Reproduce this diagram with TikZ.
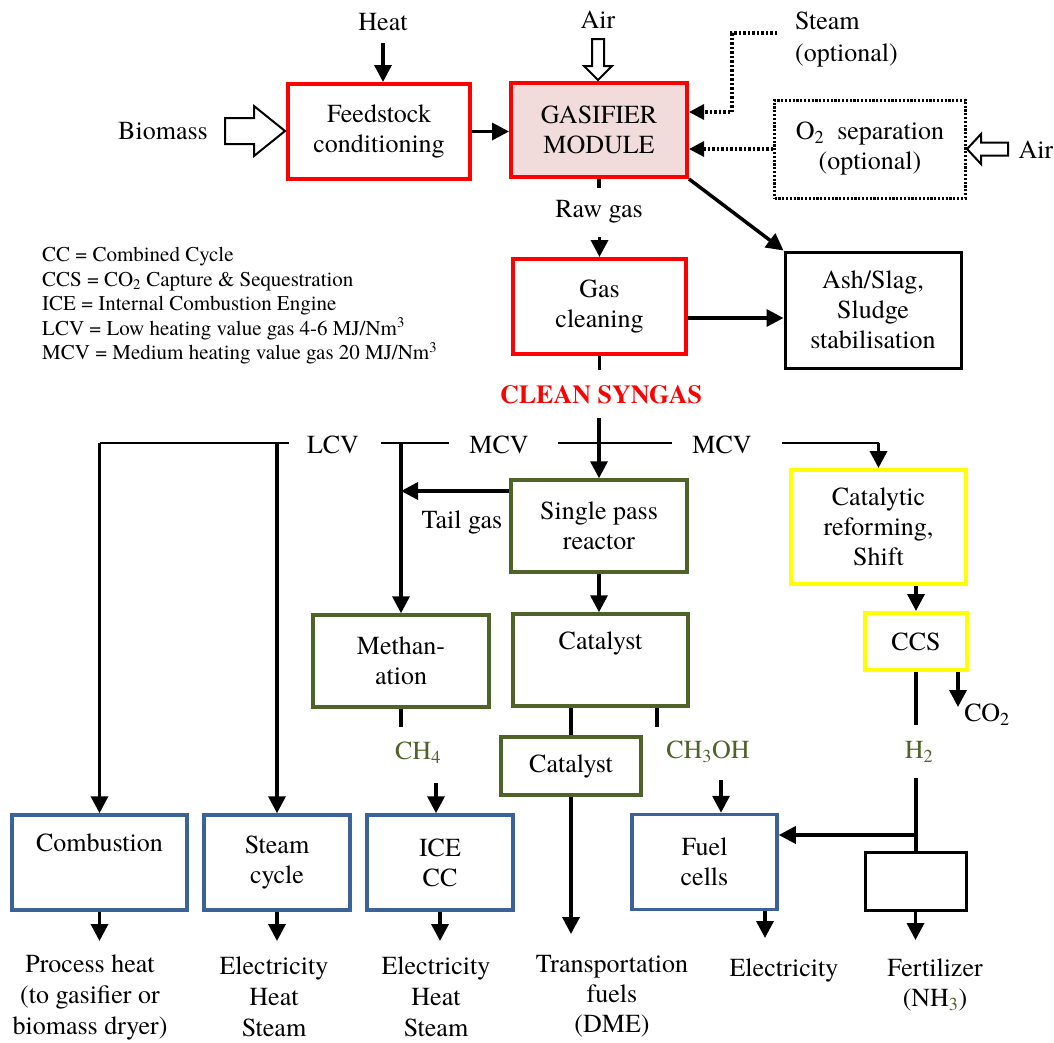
\documentclass[tikz,border=0pt]{standalone}
\usepackage{fontspec}
\setmainfont{texgyretermes}[Extension=.otf, UprightFont=*-regular, BoldFont=*-bold, ItalicFont=*-italic, BoldItalicFont=*-bolditalic]
\usetikzlibrary{arrows.meta}
\definecolor{redc}{HTML}{FF0000}
\definecolor{greenc}{HTML}{4F6228}
\definecolor{bluec}{HTML}{3B6397}
\definecolor{yellowc}{HTML}{FFFF00}
\definecolor{pinkc}{HTML}{F2DCDB}
\begin{document}
\begin{tikzpicture}[x=1pt,y=-1pt,
  every node/.style={font=\fontsize{26}{30}\selectfont, align=center, inner sep=0pt},
  redbox/.style={draw=redc, line width=4pt},
  greenbox/.style={draw=greenc, line width=3.5pt},
  bluebox/.style={draw=bluec, line width=3.5pt},
  yellowbox/.style={draw=yellowc, line width=4pt},
  blackbox/.style={draw=black, line width=3pt},
  dotbox/.style={draw=black, line width=3pt, dash pattern=on 2.2pt off 1.6pt},
  arr/.style={line width=3.5pt, -{Triangle[length=17pt,width=17pt]}},
  dotarr/.style={line width=3.2pt, dash pattern=on 2.5pt off 2pt, -{Triangle[length=15pt,width=15pt]}},
  stub/.style={line width=3.5pt},
  hline/.style={line width=1.8pt},
  hollow/.style={draw=black, line width=2pt, fill=white, line join=miter},
  gtext/.style={text=greenc},
  outtext/.style={font=\fontsize{26}{31}\selectfont}
]
\useasboundingbox (0,0) rectangle (1054,1042);

% ---------- top ----------
\node (heat) at (383,22) {Heat};
\node[redbox, minimum width=182, minimum height=95] (feed) at (379,131.5) {Feedstock\\conditioning};
\node (biomass) at (163,131) {Biomass};
\draw[hollow] (225,118) -- (254,118) -- (254,106) -- (285,131) -- (254,156) -- (254,144) -- (225,144) -- cycle;
\draw[arr] (heat.south |- 0,43) -- (heat.south |- feed.north);

\node[redbox, fill=pinkc, minimum width=176, minimum height=94] (gasif) at (599,130) {GASIFIER\\MODULE};
\draw[arr] (feed.east) -- (gasif.west |- feed.east);

\node (airtop) at (598,20) {Air};
\draw[hollow] (592,39) -- (604,39) -- (604,66) -- (612,66) -- (598,80) -- (584,66) -- (592,66) -- cycle;

\node[align=left, anchor=west, font=\fontsize{26}{32}\selectfont] (steam) at (795,40) {Steam\\(optional)};
\coordinate (steamend) at (777,33);
\draw[dotarr] (steamend) -- (732,33) -- (732,112) -- (gasif.east |- 0,112);

\node[dotbox, minimum width=191, minimum height=98] (o2) at (870,149) {O\textsubscript{2}\ \ separation\\(optional)};
\draw[dotarr] (o2.west) -- (gasif.east |- o2.west);
\draw[hollow] (967,149) -- (981,134) -- (981,142.5) -- (1008,142.5) -- (1008,155.5) -- (981,155.5) -- (981,164) -- cycle;
\node (airright) at (1036,150) {Air};

\draw[stub] (gasif.south) -- ++(0,9);
\node (raw) at (599,212) {Raw gas};
\node[redbox, minimum width=173, minimum height=95] (gascl) at (599.5,306.5) {Gas\\cleaning};
\draw[arr] (gascl.north |- 0,237) -- (gascl.north);

\node[blackbox, minimum width=176, minimum height=116] (ash) at (873,310) {Ash/Slag,\\Sludge\\stabilisation};
\draw[arr] (gasif.south east) -- (ash.north west);
\draw[arr] (gascl.east |- 0,318) -- (ash.west |- 0,318);

% ---------- legend ----------
\node[anchor=north west, align=left, font=\fontsize{21}{24.5}\selectfont] (legend) at (42,247)
  {CC = Combined Cycle\\
   CCS = CO\textsubscript{2} Capture \& Sequestration\\
   ICE = Internal Combustion Engine\\
   LCV = Low heating value gas 4-6 MJ/Nm\textsuperscript{3}\\
   MCV = Medium heating value gas 20 MJ/Nm\textsuperscript{3}};

% ---------- clean syngas ----------
\draw[stub] (gascl.south) -- ++(0,14);
\node[text=redc, font=\fontsize{26}{30}\selectfont\bfseries] (clean) at (601,395) {CLEAN SYNGAS};

\node[greenbox, minimum width=176, minimum height=92] (reactor) at (599,526) {Single pass\\reactor};
\draw[arr] (reactor.north |- 0,418) -- (reactor.north);

% distribution line
\coordinate (hl) at (100,443);
\node (lcv) at (333,445) {LCV};
\node (mcv1) at (499,445) {MCV};
\node (mcv2) at (722,445) {MCV};
\node[yellowbox, minimum width=175, minimum height=114] (reform) at (878.5,527) {Catalytic\\reforming,\\Shift};
\draw[hline] (hl) -- ([xshift=-18pt]lcv.west |- hl);
\draw[hline] ([xshift=22pt]lcv.east |- hl) -- ([xshift=-20pt]mcv1.west |- hl);
\draw[hline] ([xshift=29pt]mcv1.east |- hl) -- ([xshift=-20pt]mcv2.west |- hl);
\draw[hline] ([xshift=30pt]mcv2.east |- hl) -- (reform.north |- hl);
\draw[arr] (reform.north |- hl) -- (reform.north);

% bottom blue boxes
\node[bluebox, minimum width=175, minimum height=95] (comb) at (99.5,862.5) {Combustion\\\strut};
\node[bluebox, minimum width=146, minimum height=95] (stcyc) at (277,862.5) {Steam\\cycle};
\node[bluebox, minimum width=146, minimum height=95] (ice) at (440,862.5) {ICE\\CC};
\node[bluebox, minimum width=145, minimum height=95] (fuel) at (704.5,862) {Fuel\\cells};

\draw[arr] (comb.north |- hl) -- (comb.north);
\draw[arr] (stcyc.north |- hl) -- (stcyc.north);

% methanation
\node[greenbox, minimum width=176, minimum height=92] (meth) at (401,661) {Methan-\\ation};
\draw[arr] (meth.north |- hl) -- (meth.north);
\draw[arr] (reactor.west |- 0,491) -- (meth.north |- 0,491);
\node (tail) at (462,522) {Tail gas};
\draw[stub] (meth.south) -- ++(0,18);
\node[gtext] (ch4) at (418,753) {CH\textsubscript{4}};
\draw[arr] ([xshift=-4pt]ice.north |- 0,783) -- ([xshift=-4pt]ice.north);

% catalyst path
\node[greenbox, minimum width=175, minimum height=92] (catal) at (600.5,660) {Catalyst\\\strut};
\draw[arr] (reactor.south) -- (reactor.south |- catal.north);
\node[greenbox, minimum width=140, minimum height=58] (scat) at (571,766) {Catalyst};
\draw[stub] (scat.north |- catal.south) -- (scat.north);
\draw[stub] ([xshift=56.5pt]catal.south) -- ++(0,19);
\node[gtext] (ch3oh) at (708,752) {CH\textsubscript{3}OH};
\draw[arr] ([xshift=16.5pt]fuel.north |- 0,780) -- ([xshift=16.5pt]fuel.north);
\coordinate (dmeend) at (571,934);
\draw[arr] (scat.south) -- (dmeend);

% CCS path
\node[yellowbox, minimum width=102, minimum height=57] (ccs) at (916,641.5) {CCS};
\draw[arr] (ccs.north |- reform.south) -- (ccs.north);
\coordinate (co2end) at (958,707);
\draw[arr] (co2end |- ccs.south) -- (co2end);
\node (co2) at (987,715) {CO\textsubscript{2}};
\draw[stub] (ccs.south) -- ++(0,53);
\node[gtext] (h2) at (919,752) {H\textsubscript{2}};
\node[blackbox, minimum width=101, minimum height=58] (blank) at (915.5,881) {};
\coordinate (jn) at (916,835);
\draw[stub] (jn |- 0,778) -- (jn) -- (jn |- blank.north);
\draw[arr] (jn) -- (fuel.east |- jn);

% outputs
\coordinate (o1) at (99.5,941);
\coordinate (o2e) at (277,941);
\coordinate (o3) at (440,941);
\coordinate (o4) at (765,938);
\coordinate (o5) at (915.5,940);
\draw[arr] (comb.south) -- (o1);
\draw[arr] (stcyc.south) -- (o2e);
\draw[arr] (ice.south) -- (o3);
\draw[arr] (o4 |- fuel.south) -- (o4);
\draw[arr] (blank.south) -- (o5);

\node[outtext] (procheat) at (90,997) {Process heat\\(to gasifier or\\biomass dryer)};
\node[outtext] (elec1) at (274,997) {Electricity\\Heat\\Steam};
\node[outtext] (elec2) at (436,997) {Electricity\\Heat\\Steam};
\node (transp) at (612,996) {Transportation\\fuels\\(DME)};
\node (elec3) at (784,970) {Electricity};
\node (fert) at (935,985) {Fertilizer\\(NH\textsubscript{\textcolor{greenc}{3}})};
\end{tikzpicture}
\end{document}
